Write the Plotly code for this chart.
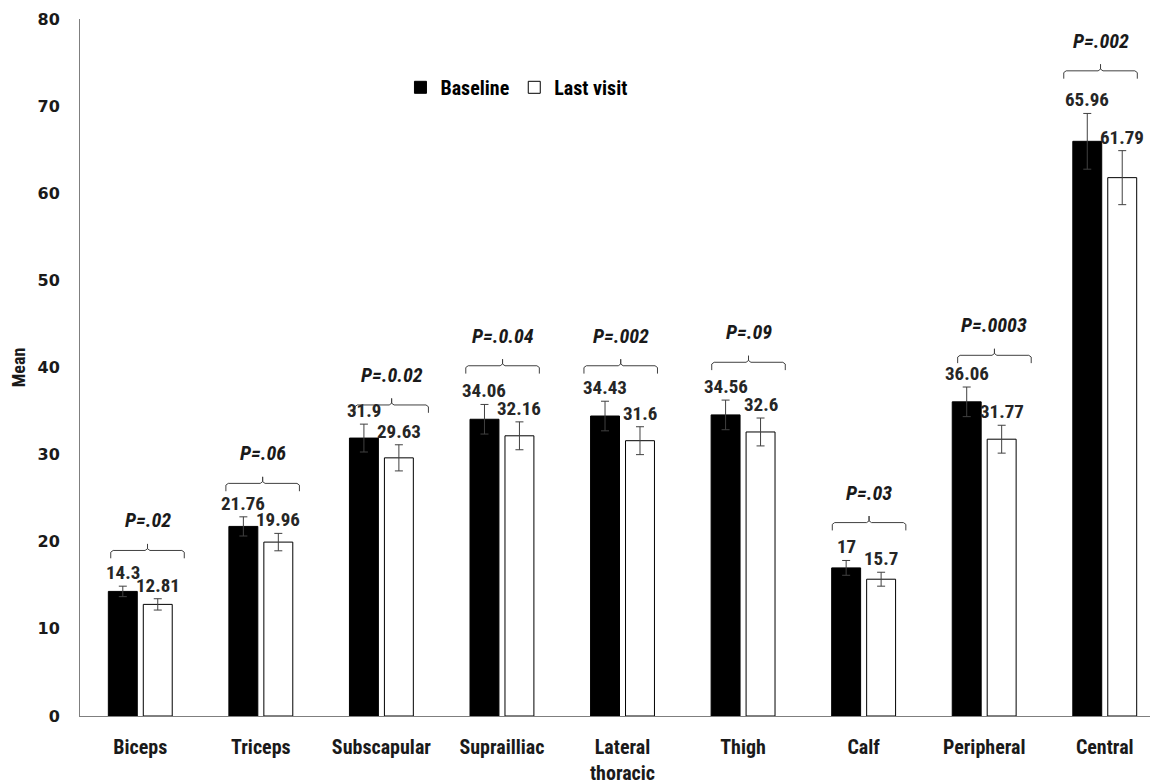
import plotly.graph_objects as go

categories = ["Biceps", "Triceps", "Subscapular", "Suprailliac", "Lateral<br>thoracic",
              "Thigh", "Calf", "Peripheral", "Central"]
baseline = [14.3, 21.76, 31.9, 34.06, 34.43, 34.56, 17, 36.06, 65.96]
last_visit = [12.81, 19.96, 29.63, 32.16, 31.6, 32.6, 15.7, 31.77, 61.79]
baseline_err = [0.6, 1.1, 1.6, 1.7, 1.7, 1.7, 0.85, 1.7, 3.2]
last_err = [0.65, 1.0, 1.5, 1.6, 1.6, 1.6, 0.8, 1.6, 3.1]
p_labels = ["P=.02", "P=.06", "P=.0.02", "P=.0.04", "P=.002", "P=.09", "P=.03", "P=.0003", "P=.002"]
bracket_y = [19.0, 26.7, 35.7, 40.2, 40.2, 40.6, 22.2, 41.4, 74.05]
bracket_left = [-0.245, -0.29, -0.22, -0.30, -0.32, -0.26, -0.26, -0.22, -0.34]

FONT_NARROW = "Liberation Sans Narrow, Roboto Condensed, Roboto, Open Sans, sans-serif"
BAR_W = 0.24
GAP = 0.05
x_idx = list(range(len(categories)))

fig = go.Figure()
fig.add_trace(go.Bar(
    name="<b>Baseline</b>", x=x_idx, y=baseline, width=BAR_W, offset=-BAR_W - GAP / 2,
    marker=dict(color="black", line=dict(color="black", width=1)),
    error_y=dict(type="data", array=baseline_err, color="#404040", thickness=1, width=4),
))
fig.add_trace(go.Bar(
    name="<b>Last visit</b>", x=x_idx, y=last_visit, width=BAR_W, offset=GAP / 2,
    marker=dict(color="white", line=dict(color="black", width=1)),
    error_y=dict(type="data", array=last_err, color="#404040", thickness=1, width=4),
))

bw = 0.61
bx, by = [], []
for i, (yb, left) in enumerate(zip(bracket_y, bracket_left)):
    x0 = i + left
    x1 = x0 + bw
    xm = (x0 + x1) / 2
    bx += [x0, x0, x0 + 0.02, xm - 0.02, xm, xm, xm, xm + 0.02, x1 - 0.02, x1, x1, None]
    by += [yb - 0.9, yb - 0.2, yb, yb, yb + 0.2, yb + 0.75, yb + 0.2, yb, yb, yb - 0.2, yb - 0.9, None]
fig.add_trace(go.Scatter(x=bx, y=by, mode="lines", line=dict(color="#404040", width=1),
                         showlegend=False, hoverinfo="skip"))

annotations = []
for i in x_idx:
    annotations.append(dict(x=i - BAR_W / 2 - GAP / 2, y=baseline[i] + baseline_err[i],
                            text=f"<b>{baseline[i]:g}</b>", showarrow=False, yanchor="bottom",
                            yshift=0, font=dict(size=19, color="#262626", family=FONT_NARROW)))
    annotations.append(dict(x=i + BAR_W / 2 + GAP / 2, y=last_visit[i] + last_err[i],
                            text=f"<b>{last_visit[i]:g}</b>", showarrow=False, yanchor="bottom",
                            yshift=0, font=dict(size=19, color="#262626", family=FONT_NARROW)))
    annotations.append(dict(x=i + bracket_left[i] + bw / 2, y=bracket_y[i], text=f"<b><i>{p_labels[i]}</i></b>",
                            showarrow=False, yanchor="middle", yshift=30,
                            font=dict(size=20, color="#1a1a1a", family=FONT_NARROW)))

fig.update_layout(
    width=1158, height=784,
    margin=dict(l=72, r=7, t=11, b=76),
    paper_bgcolor="white", plot_bgcolor="white",
    barmode="overlay",
    showlegend=True,
    legend=dict(orientation="h", x=0.297, y=0.902, xanchor="left", yanchor="middle",
                font=dict(size=20, family=FONT_NARROW, color="black"),
                itemwidth=30, bgcolor="rgba(0,0,0,0)", traceorder="normal"),
    annotations=annotations,
    xaxis=dict(range=[-0.5, 8.45], tickmode="array", tickvals=x_idx,
               ticktext=[f"<b>{c}</b>" for c in categories], automargin=False,
               showline=True, linecolor="#7f7f7f", linewidth=1, showgrid=False, zeroline=False,
               ticks="", ticklabelstandoff=13,
               tickfont=dict(size=20, family=FONT_NARROW, color="#1a1a1a")),
    yaxis=dict(range=[0, 80], dtick=10, showline=True, linecolor="#7f7f7f", linewidth=1,
               showgrid=False, zeroline=False, ticks="", ticklabelstandoff=16, automargin=False,
               tickfont=dict(size=16, family="DejaVu Sans", color="#1a1a1a", weight="bold"),
               title=dict(text="<b>Mean</b>", standoff=10,
                          font=dict(size=18, family=FONT_NARROW, color="#1a1a1a"))),
)

fig.write_html("out.html")
